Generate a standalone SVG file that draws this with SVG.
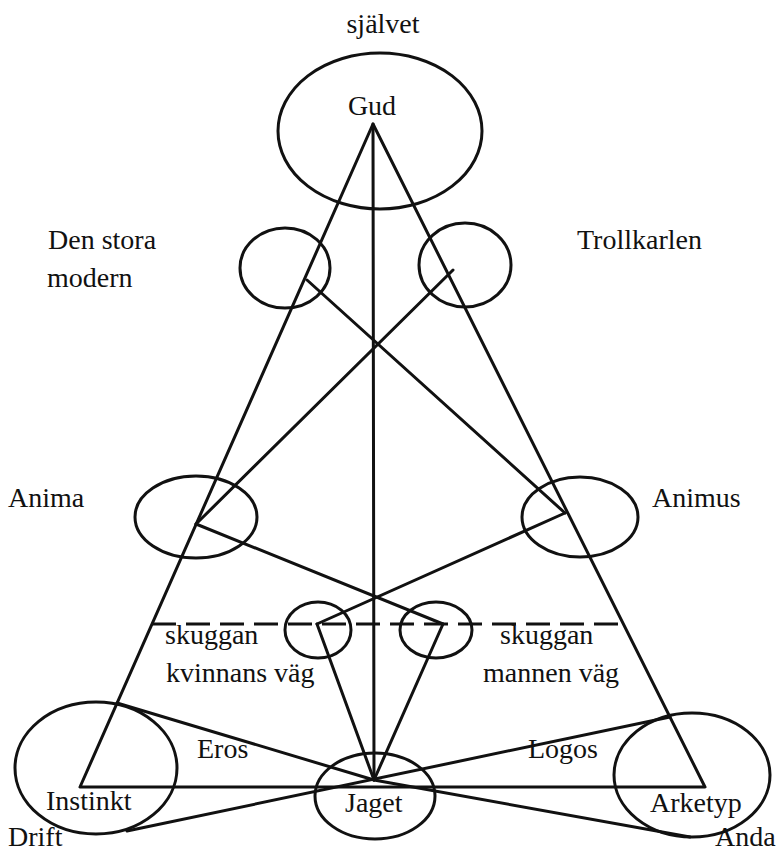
<svg xmlns="http://www.w3.org/2000/svg" width="781" height="853" viewBox="0 0 781 853">
<style>
.n{fill:none;stroke:#111;stroke-width:3}
.c line,.c polyline{stroke:#111;stroke-width:3;fill:none;stroke-linecap:round;stroke-linejoin:round}
.c .d{stroke-dasharray:24 10;stroke-linecap:butt}
text{font-family:"Liberation Serif","DejaVu Serif",serif;font-size:28px;fill:#111}
.m{text-anchor:middle}
</style>
<rect width="781" height="853" fill="#fff"/>
<g id="connectors" class="c">
<polyline points="80,787 373,124 705,787 80,787"/>
<line x1="373" y1="124" x2="374" y2="780"/>
<line x1="196" y1="524" x2="453" y2="270"/>
<line x1="307" y1="280" x2="565" y2="513"/>
<line x1="196" y1="524" x2="443" y2="624"/>
<line x1="317" y1="624" x2="565" y2="513"/>
<line class="d" x1="152" y1="624" x2="623" y2="624"/>
<line x1="317" y1="624" x2="374" y2="780"/>
<line x1="443" y1="624" x2="374" y2="780"/>
<polyline points="117,703 374,780 690,837"/>
<line x1="127" y1="831" x2="670" y2="717"/>
<text x="197" y="758">Eros</text>
<text x="528" y="758">Logos</text>
</g>
<g id="sjalvet">
<ellipse class="n" cx="380" cy="131" rx="102" ry="78"/>
<text class="m" x="383" y="33">självet</text>
<text class="m" x="372" y="115">Gud</text>
</g>
<g id="den-stora-modern">
<ellipse class="n" cx="285" cy="268" rx="45" ry="40"/>
<text x="48" y="249">Den stora</text>
<text x="47" y="287">modern</text>
</g>
<g id="trollkarlen">
<ellipse class="n" cx="465" cy="265" rx="46" ry="42"/>
<text x="577" y="249">Trollkarlen</text>
</g>
<g id="anima">
<ellipse class="n" cx="196" cy="517" rx="61" ry="41"/>
<text x="8" y="507">Anima</text>
</g>
<g id="animus">
<ellipse class="n" cx="580" cy="517" rx="58" ry="40"/>
<text x="652" y="507">Animus</text>
</g>
<g id="skuggan-kvinna">
<ellipse class="n" cx="318" cy="630" rx="33" ry="28"/>
<text x="165" y="644">skuggan</text>
<text x="166" y="682">kvinnans väg</text>
</g>
<g id="skuggan-man">
<ellipse class="n" cx="436" cy="630" rx="36" ry="28"/>
<text x="500" y="644">skuggan</text>
<text x="483" y="682">mannen väg</text>
</g>
<g id="drift">
<ellipse class="n" cx="96" cy="768" rx="81" ry="66"/>
<text x="46" y="810">Instinkt</text>
<text x="8" y="846">Drift</text>
</g>
<g id="jaget">
<ellipse class="n" cx="375" cy="796" rx="60" ry="43"/>
<text x="345" y="812">Jaget</text>
</g>
<g id="arketyp">
<ellipse class="n" cx="692" cy="775" rx="78" ry="62"/>
<text x="650" y="812">Arketyp</text>
<text x="715" y="846">Anda</text>
</g>
</svg>
